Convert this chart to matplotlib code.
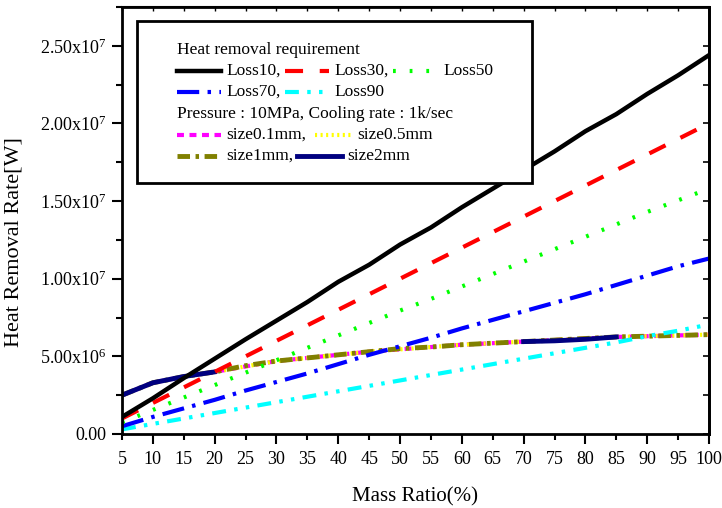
import numpy as np
import matplotlib
matplotlib.use("Agg")
import matplotlib.pyplot as plt
from matplotlib.lines import Line2D
from matplotlib.patches import Rectangle
from matplotlib.ticker import MultipleLocator, FixedLocator

plt.rcParams['font.family'] = ['Liberation Serif', 'DejaVu Serif']
plt.rcParams['mathtext.fontset'] = 'custom'
plt.rcParams['mathtext.rm'] = 'Liberation Serif'
plt.rcParams['mathtext.it'] = 'Liberation Serif'
plt.rcParams['lines.scale_dashes'] = False

# mass ratio (%)
mass_ratio = [5, 10, 15, 20, 25, 30, 35, 40, 45, 50,
              55, 60, 65, 70, 75, 80, 85, 90, 95, 100]

# heat removal requirement (x1e6 W)
loss10 = [1.1, 2.3, 3.6, 4.85, 6.1, 7.3, 8.5, 9.8, 10.9, 12.2,
          13.3, 14.6, 15.8, 17.0, 18.2, 19.5, 20.6, 21.9, 23.1, 24.4]
loss30 = [1.0, 2.0, 3.0, 4.0, 5.0, 6.0, 7.0, 8.0, 9.0, 10.0,
          11.0, 12.0, 13.0, 14.0, 15.0, 16.0, 17.0, 18.0, 19.0, 20.0]
loss50 = [0.75, 1.55, 2.35, 3.15, 3.95, 4.75, 5.55, 6.35, 7.15, 7.95,
          8.7, 9.5, 10.3, 11.1, 11.9, 12.7, 13.5, 14.3, 15.05, 15.8]
loss70 = [0.5, 1.1, 1.65, 2.2, 2.8, 3.35, 3.9, 4.5, 5.1, 5.65,
          6.2, 6.8, 7.35, 7.9, 8.45, 9.0, 9.6, 10.2, 10.8, 11.3]
loss90 = [0.3, 0.65, 1.0, 1.35, 1.7, 2.05, 2.4, 2.75, 3.1, 3.45,
          3.8, 4.15, 4.5, 4.85, 5.2, 5.55, 5.9, 6.3, 6.65, 7.05]

# cooling capacity, 10MPa, 1k/sec (x1e6 W)
size01 = [2.5, 3.3, 3.7, 4.0, 4.35, 4.7, 4.9, 5.1, 5.3, 5.45,
          5.6, 5.75, 5.85, 5.95, 6.05, 6.15, 6.25, 6.3, 6.35, 6.4]
size05 = [2.5, 3.3, 3.7, 4.0, 4.35, 4.7, 4.9, 5.1, 5.3, 5.45,
          5.6, 5.75, 5.85, 5.95, 6.05, 6.15, 6.25, 6.3, 6.35, 6.4]
size1 = [2.5, 3.3, 3.7, 4.0, 4.4, 4.7, 4.9, 5.1, 5.3, 5.5,
         5.6, 5.75, 5.85, 5.95, 6.05, 6.15, 6.25, 6.3, 6.35, 6.4]
size2 = [2.5, 3.3, 3.7, 4.0, np.nan, np.nan, np.nan, np.nan, np.nan, np.nan,
         np.nan, np.nan, np.nan, 5.95, 6.0, 6.1, 6.25, np.nan, np.nan, np.nan]

W, H = 722, 508
fig = plt.figure(figsize=(W / 100, H / 100), dpi=100)
ax = fig.add_axes([122 / W, 1 - 434 / H, (709 - 122) / W, (434 - 7) / H])

x = np.array(mass_ratio)
s = lambda v: np.array(v, dtype=float) * 1e6

styles = {
    'loss10': dict(color='black', ls='-', lw=3.2),
    'loss30': dict(color='#ff0000', ls=(0, (13, 12)), lw=3),
    'loss50': dict(color='#00ff00', ls=(0, (2, 10)), lw=3),
    'loss70': dict(color='#0000ff', ls=(0, (16, 6, 2.5, 6)), lw=3),
    'loss90': dict(color='#00ffff', ls=(0, (10, 6, 2.5, 6, 2.5, 6)), lw=3),
    'size01': dict(color='#ff00ff', ls=(0, (5, 4)), lw=3),
    'size05': dict(color='#ffff00', ls=(0, (1.5, 2.5)), lw=3),
    'size1': dict(color='#808000', ls=(0, (9, 4, 2.5, 4)), lw=3.5),
    'size2': dict(color='#000080', ls='-', lw=3.5),
}

ax.plot(x, s(size01), **styles['size01'])
ax.plot(x, s(size05), **styles['size05'])
ax.plot(x, s(size1), **styles['size1'])
ax.plot(x, s(size2), **styles['size2'])
ax.plot(x, s(loss90), **styles['loss90'])
ax.plot(x, s(loss70), **styles['loss70'])
ax.plot(x, s(loss50), **styles['loss50'])
ax.plot(x, s(loss30), **styles['loss30'])
ax.plot(x, s(loss10), **styles['loss10'])

ax.set_xlim(5, 100)
ax.set_ylim(0, 2.75e7)

# x ticks: every 5, longer at multiples of 10
ax.xaxis.set_major_locator(FixedLocator([10, 20, 30, 40, 50, 60, 70, 80, 90, 100]))
ax.xaxis.set_minor_locator(FixedLocator([5, 15, 25, 35, 45, 55, 65, 75, 85, 95]))
ax.xaxis.set_minor_formatter(plt.FuncFormatter(lambda v, p: f'{v:g}'))
ax.xaxis.set_major_formatter(plt.FuncFormatter(lambda v, p: f'{v:g}'))
ax.tick_params(axis='x', which='major', direction='out', length=7, width=1.5,
               labelsize=13, pad=5)
ax.tick_params(axis='x', which='minor', direction='out', length=4, width=1.5,
               labelsize=13, pad=8)

yt = [0, 5e6, 1e7, 1.5e7, 2e7, 2.5e7]
ylabels = ['0.00', '5.00x10$^{6}$', '1.00x10$^{7}$', '1.50x10$^{7}$',
           '2.00x10$^{7}$', '2.50x10$^{7}$']
ax.set_yticks(yt)
ax.set_yticklabels(ylabels)
ax.yaxis.set_minor_locator(MultipleLocator(2.5e6))
ax.tick_params(axis='y', which='major', direction='out', length=7, width=1.5,
               labelsize=13, pad=4)
ax.tick_params(axis='y', which='minor', direction='out', length=4, width=1.5)

# right / top spine ticks pointing inward
ax_r = ax.secondary_yaxis('right')
ax_r.set_yticks([])
ax_r.yaxis.set_minor_locator(MultipleLocator(2.5e6))
ax_r.tick_params(which='minor', direction='in', length=4, width=1.2)
ax_r.spines['right'].set_linewidth(2)
ax_t = ax.secondary_xaxis('top')
ax_t.set_xticks([])
ax_t.xaxis.set_minor_locator(MultipleLocator(5))
ax_t.tick_params(which='minor', direction='in', length=3, width=1)
ax_t.spines['top'].set_linewidth(1.5)

for sp in ax.spines.values():
    sp.set_linewidth(2)

ax.set_xlabel('Mass Ratio(%)', fontsize=15, labelpad=14)
ax.set_ylabel('Heat Removal Rate[W]', fontsize=16)
ax.yaxis.set_label_coords(-0.167, 0.45)

# legend box drawn by hand (irregular layout)
def fx(px):
    return px / W

def fy(py):
    return 1 - py / H

fig.patches.append(Rectangle((fx(137), fy(183)), fx(532) - fx(137), fy(21) - fy(183),
                             transform=fig.transFigure, fill=True, facecolor='white',
                             edgecolor='black', lw=2, zorder=5))

def leg_line(x0, x1, y, key):
    st = styles[key]
    fig.lines.append(Line2D([fx(x0), fx(x1)], [fy(y), fy(y)], transform=fig.transFigure,
                            color=st['color'], ls=st['ls'], lw=st['lw'], zorder=6))

def leg_text(x0, y, t):
    fig.text(fx(x0), fy(y), t, fontsize=12.5, ha='left', va='center', zorder=7)

leg_text(177, 50, 'Heat removal requirement')
leg_line(177, 221, 71, 'loss10'); leg_text(226, 71, 'Loss10,')
leg_line(285, 329, 71, 'loss30'); leg_text(334, 71, 'Loss30,')
leg_line(393, 433, 71, 'loss50'); leg_text(443, 71, 'Loss50')
leg_line(177, 221, 92, 'loss70'); leg_text(226, 92, 'Loss70,')
leg_line(285, 325, 92, 'loss90'); leg_text(334, 92, 'Loss90')
leg_text(177, 114, 'Pressure : 10MPa, Cooling rate : 1k/sec')
leg_line(177, 221, 135, 'size01'); leg_text(226, 135, 'size0.1mm,')
leg_line(315, 352, 135, 'size05'); leg_text(357, 135, 'size0.5mm')
leg_line(177, 221, 156, 'size1'); leg_text(226, 156, 'size1mm,')
leg_line(297, 342, 156, 'size2'); leg_text(347, 156, 'size2mm')

fig.savefig('out.png', dpi=100)
